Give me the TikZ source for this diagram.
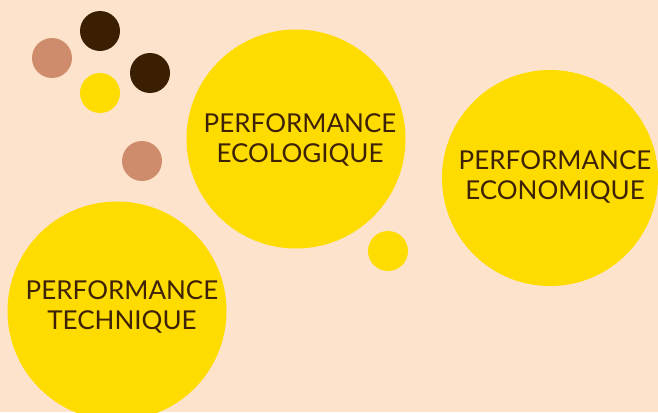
\documentclass[tikz,border=0pt]{standalone}
\usepackage{fontspec}
\setmainfont{Lato}
\usepackage{xcolor}
\usepackage{tikz}
\usetikzlibrary{positioning}

\definecolor{peach}{HTML}{FDE3CB}
\definecolor{sun}{HTML}{FFDC00}
\definecolor{cocoa}{HTML}{3B1F02}
\definecolor{clay}{HTML}{CE8C6C}
\definecolor{ink}{HTML}{3D2205}

\begin{document}
\begin{tikzpicture}[
  x=1pt, y=-1pt,
  bigdisc/.style={circle, fill=sun, inner sep=0pt, minimum size=219pt},
  label/.style={text=ink, align=center, font=\fontsize{26}{30}\selectfont},
  dot/.style={circle, inner sep=0pt, minimum size=40pt},
]
  \fill[peach] (0,0) rectangle (658,412);
  \useasboundingbox (0,0) rectangle (658,412);
  \clip (0,0) rectangle (658,412);

  % small dots top left
  \node[dot, fill=cocoa] (dotA) at (100,31) {};
  \node[dot, fill=clay] (dotB) at (52,58) {};
  \node[dot, fill=cocoa] (dotC) at (150,73) {};
  \node[dot, fill=sun] (dotD) at (100,93) {};
  \node[dot, fill=clay] (dotE) at (142,161) {};
  \node[dot, fill=sun] (dotF) at (388,251) {};

  % big discs
  \node[bigdisc] (eco) at (296,139) {};
  \node[bigdisc, minimum size=216pt] (econ) at (550,178) {};
  \node[bigdisc] (tech) at (117,311) {};

  % texts
  \node[label] (ecotext) at ([xshift=4pt, yshift=-1pt]eco.center) {PERFORMANCE\\ECOLOGIQUE};
  \node[label] (econtext) at ([xshift=5pt, yshift=1pt]econ.center) {PERFORMANCE\\ECONOMIQUE};
  \node[label] (techtext) at ([xshift=5pt, yshift=4pt]tech.center) {PERFORMANCE\\TECHNIQUE};
\end{tikzpicture}
\end{document}
